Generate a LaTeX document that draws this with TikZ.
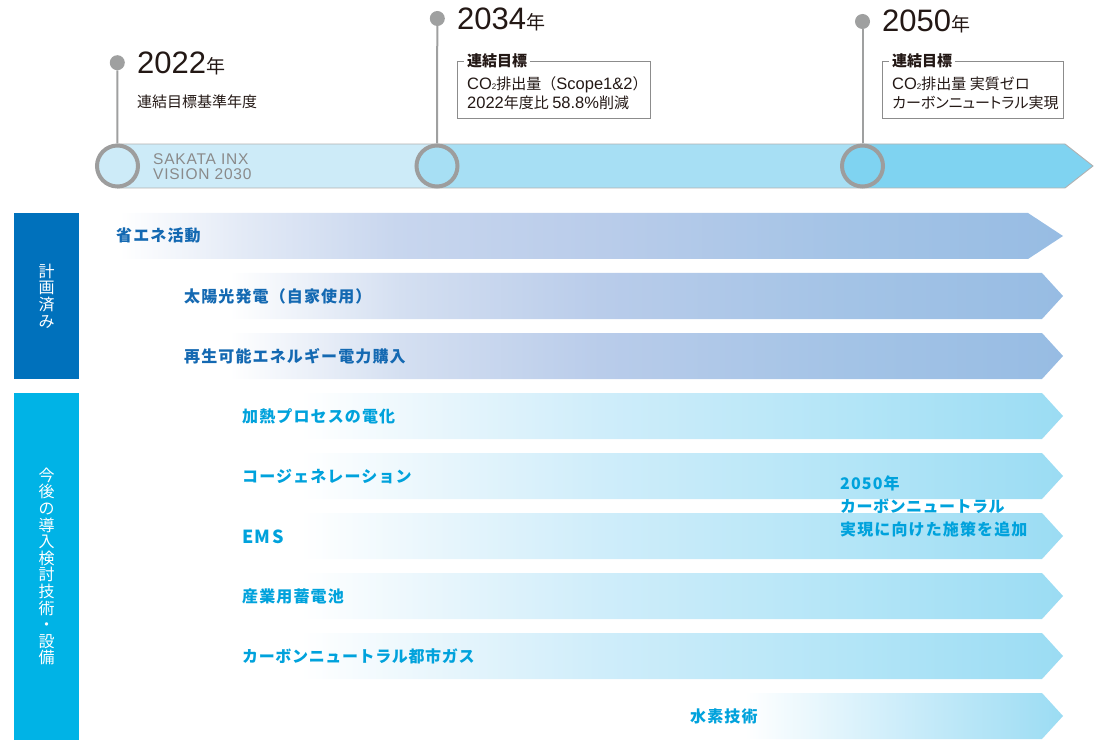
\documentclass[tikz,border=0pt]{standalone}
\usepackage{fontspec}
\setmainfont{Noto Sans CJK JP}
\newfontfamily\lat{Liberation Sans}
\newfontfamily\jpp{Noto Sans CJK JP}[RawFeature=+palt]
\newcommand\fsz[1]{\fontsize{#1}{#1}\selectfont}
\definecolor{dblue}{HTML}{0071BC}
\definecolor{cblue}{HTML}{00B3E6}
\definecolor{btxt}{HTML}{1469B2}
\definecolor{ctxt}{HTML}{00A2DC}
\definecolor{barA}{HTML}{CDEBF8}
\definecolor{barB}{HTML}{A7DFF4}
\definecolor{barC}{HTML}{7FD3F1}
\definecolor{ringgray}{HTML}{9D9D9D}
\definecolor{dotgray}{HTML}{9FA0A0}
\definecolor{boxgray}{HTML}{8C8C8C}
\definecolor{sakgray}{HTML}{8A8A8A}
\definecolor{ink}{HTML}{231815}
\definecolor{bA1}{HTML}{E3EAF6}
\definecolor{bA2}{HTML}{C8D6EE}
\definecolor{bA3}{HTML}{B9CCEA}
\definecolor{bA4}{HTML}{A3C3E6}
\definecolor{bA5}{HTML}{97BCE3}
\definecolor{bB1}{HTML}{D4DFF1}
\definecolor{cA1}{HTML}{E6F5FC}
\definecolor{cA2}{HTML}{CFEDFA}
\definecolor{cA3}{HTML}{B3E5F7}
\definecolor{cA4}{HTML}{9BDCF3}
\definecolor{cB1}{HTML}{CDEDFA}
\pgfdeclarehorizontalshading{blueA}{100bp}{color(0bp)=(white); color(25.5bp)=(white); color(32bp)=(bA1); color(40bp)=(bA2); color(51bp)=(bA3); color(64bp)=(bA4); color(75bp)=(bA5); color(100bp)=(bA5)}
\pgfdeclarehorizontalshading{blueB}{100bp}{color(0bp)=(white); color(27.8bp)=(white); color(37.5bp)=(bB1); color(48.8bp)=(bA3); color(62.9bp)=(bA4); color(75bp)=(bA5); color(100bp)=(bA5)}
\pgfdeclarehorizontalshading{cyanA}{100bp}{color(0bp)=(white); color(30.8bp)=(white); color(39.5bp)=(cA1); color(48.2bp)=(cA2); color(62.7bp)=(cA3); color(75bp)=(cA4); color(100bp)=(cA4)}
\pgfdeclarehorizontalshading{cyanB}{100bp}{color(0bp)=(white); color(31.2bp)=(white); color(52.5bp)=(cB1); color(75bp)=(cA4); color(100bp)=(cA4)}
\newcommand\band[4]{\shade[shading=#4] (#2,#1) -- (#3,#1) -- (1063,#1+23) -- (#3,#1+46) -- (#2,#1+46) -- cycle;}
\newcommand\lt[1]{{\lat\fontsize{16.5}{16.5}\selectfont #1}}
\tikzset{
  rowlabel/.style={anchor=base west, inner sep=0, font=\fsz{16}\bfseries\addfontfeature{LetterSpace=7}},
  bl/.style={rowlabel, text=btxt},
  cl/.style={rowlabel, text=ctxt},
  dot/.style={circle, fill=dotgray, inner sep=0, minimum size=15},
  ring/.style={circle, draw=ringgray, line width=4, inner sep=0, minimum size=41},
  vline/.style={draw=dotgray, line width=2},
  plain/.style={anchor=base west, inner sep=0, text=ink, font=\fsz{15}},
  goalbox/.style={draw=boxgray, line width=0.8, anchor=north west, inner sep=0, minimum height=57},
  goaltitle/.style={anchor=base west, fill=white, inner xsep=3, inner ysep=1, text=ink, font=\fsz{15}\bfseries},
  group/.style={text=white, minimum width=65, inner sep=0, align=center, font=\fontsize{16}{16.6}\selectfont},
  year/.style={anchor=base west, inner sep=0, text=ink}
}
\begin{document}
\begin{tikzpicture}[x=1pt,y=-1pt]
\useasboundingbox (0,0) rectangle (1105,751);
% timeline bar
\fill[barA] (117,144) rectangle (437,188);
\fill[barB] (437,144) rectangle (862,188);
\fill[barC] (862,144) -- (1065,144) -- (1093,166) -- (1065,188) -- (862,188) -- cycle;
\draw[ringgray!80, line width=0.9] (117,144) -- (1065,144) -- (1093,166) -- (1065,188) -- (117,188);
\node[anchor=north west, inner sep=0, align=left, text=sakgray, font=\lat\fontsize{15.5}{14.5}\selectfont\addfontfeature{LetterSpace=5}] (vision) at (153,153.5) {SAKATA INX\\VISION 2030};
% milestones
\node[ring, fill=barA] (c1) at (117.5,166) {};
\node[ring, fill=barB] (c2) at (437,166) {};
\node[ring, fill=barC] (c3) at (862.5,166) {};
\node[dot] (d1) at (117.3,62.7) {};
\node[dot] (d2) at (437.3,18.5) {};
\node[dot] (d3) at (862.5,21.5) {};
\draw[vline] (d1) -- (c1);
\draw[vline] (d2) -- (c2);
\draw[vline] (d3) -- (c3);
\node[year] (y1) at (137,73.5) {{\lat\fsz{31}2022}{\fsz{19}年}};
\node[year] (y2) at (457,29.5) {{\lat\fsz{31}2034}{\fsz{19}年}};
\node[year] (y3) at (882,32) {{\lat\fsz{31}2050}{\fsz{19}年}};
\node[plain] (base) at (137,107.5) {連結目標基準年度};
% goal boxes
\node[goalbox, minimum width=193] (g34) at (456.5,61) {};
\node[goaltitle] (t34) at (464,66.5) {連結目標};
\node[plain] (l34a) at (467,89.5) {\lt{CO{\fsz{8}2}}排出量（\lt{Scope1\&2}）};
\node[plain] (l34b) at (467,108.5) {\lt{2022}年度比 \lt{58.8\%}削減};
\node[goalbox, minimum width=181] (g50) at (882,61) {};
\node[goaltitle] (t50) at (889,66.5) {連結目標};
\node[plain] (l50a) at (892,89.5) {\lt{CO{\fsz{8}2}}排出量 実質ゼロ};
\node[plain] (l50b) at (892,108.5) {\jpp カーボンニュートラル実現};
% group labels
\node[group, fill=dblue, minimum height=166] (grp1) at (46.5,296) {計\\画\\済\\み};
\node[group, fill=cblue, minimum height=347] (grp2) at (46.5,566.5) {今\\後\\の\\導\\入\\検\\討\\技\\術\\・\\設\\備};
% bands
\band{213}{110}{1028}{blueA}
\band{273}{180}{1042}{blueB}
\band{333}{180}{1042}{blueB}
\band{393}{200}{1042}{cyanA}
\band{453}{200}{1042}{cyanA}
\band{513}{200}{1042}{cyanA}
\band{573}{200}{1042}{cyanA}
\band{633}{200}{1042}{cyanA}
\band{693}{700}{1042}{cyanB}
\node[bl] (r1) at (116,242) {省エネ活動};
\node[bl] (r2) at (184,302) {太陽光発電（自家使用）};
\node[bl] (r3) at (184,362) {再生可能エネルギー電力購入};
\node[cl] (r4) at (242,422) {加熱プロセスの電化};
\node[cl] (r5) at (242,482) {コージェネレーション};
\node[cl] (r6) at (242,543) {\fsz{18}\addfontfeature{LetterSpace=8}EMS};
\node[cl] (r7) at (242,602) {産業用蓄電池};
\node[cl] (r8) at (242,662) {\addfontfeature{LetterSpace=4}カーボンニュートラル都市ガス};
\node[cl] (r9) at (690,722) {水素技術};
\node[cl] (n1) at (840,489) {2050年};
\node[cl] (n2) at (840,512) {\addfontfeature{LetterSpace=3}カーボンニュートラル};
\node[cl] (n3) at (840,535) {実現に向けた施策を追加};
\end{tikzpicture}
\end{document}
